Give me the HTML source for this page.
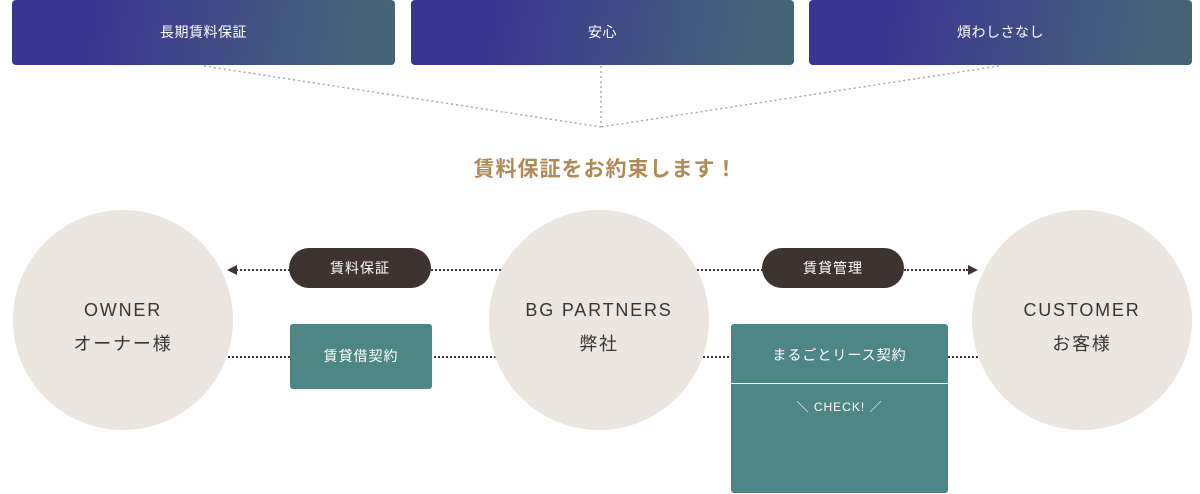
<!DOCTYPE html>
<html><head><meta charset="utf-8"><style>
body{margin:0;width:1200px;height:494px;background:#fff;position:relative;overflow:hidden;font-family:"Liberation Sans","Noto Sans CJK JP",sans-serif}
.t{position:absolute;top:0;height:65px;width:383px;border-radius:4px;background:linear-gradient(100deg,#3a3591 20%,#456478 90%);color:#fff;font-size:14px;line-height:65px;text-align:center;letter-spacing:0.5px}
.c{position:absolute;width:220px;height:220px;border-radius:50%;background:#ebe6df;top:210px;color:#3e3330;text-align:center;font-size:18px;letter-spacing:1.8px;line-height:34px;box-sizing:border-box;padding-top:83px}
.p{position:absolute;top:248px;height:40px;width:142px;border-radius:20px;background:#3e3330;color:#fff;font-size:14px;text-align:center;line-height:40px;letter-spacing:1px}
.g{position:absolute;background:#4e8585;color:#fff;font-size:14px;text-align:center;border-radius:3px;letter-spacing:1px}
.d{position:absolute;height:0;border-top:2px dotted #3e3330}
</style></head><body>
<div class="t" style="left:12px">長期賃料保証</div>
<div class="t" style="left:411px">安心</div>
<div class="t" style="left:809px">煩わしさなし</div>
<svg style="position:absolute;left:0;top:0" width="1200" height="140"><g stroke="#aaa" stroke-width="1.5" stroke-dasharray="2,3" fill="none"><line x1="204" y1="66" x2="601" y2="127"/><line x1="601" y1="66" x2="601" y2="127"/><line x1="999" y1="66" x2="601" y2="127"/></g></svg>
<div style="position:absolute;top:153px;left:0;width:1211px;text-align:center;color:#b08a55;font-size:21px;font-weight:bold;letter-spacing:1px">賃料保証をお約束します！</div>
<div class="d" style="left:236px;width:54px;top:269px"></div>
<div style="position:absolute;left:227px;top:265px;border-right:10px solid #3e3330;border-top:5px solid transparent;border-bottom:5px solid transparent"></div>
<div class="d" style="left:431px;width:70px;top:269px"></div>
<div class="d" style="left:697px;width:66px;top:269px"></div>
<div class="d" style="left:904px;width:64px;top:269px"></div>
<div style="position:absolute;left:968px;top:265px;border-left:10px solid #3e3330;border-top:5px solid transparent;border-bottom:5px solid transparent"></div>
<div class="d" style="left:228px;width:70px;top:356px"></div>
<div class="d" style="left:430px;width:70px;top:356px"></div>
<div class="d" style="left:700px;width:40px;top:356px"></div>
<div class="d" style="left:945px;width:40px;top:356px"></div>
<div class="c" style="left:13px">OWNER<br>オーナー様</div>
<div class="c" style="left:489px">BG PARTNERS<br>弊社</div>
<div class="c" style="left:972px">CUSTOMER<br>お客様</div>
<div class="p" style="left:289px">賃料保証</div>
<div class="p" style="left:762px">賃貸管理</div>
<div class="g" style="left:290px;top:324px;width:142px;height:65px;line-height:65px">賃貸借契約</div>
<div class="g" style="left:731px;top:324px;width:217px;height:169px">
<div style="height:59px;line-height:62px;border-bottom:1px solid #fff">まるごとリース契約</div>
<div style="font-size:12px;margin-top:14px">＼ CHECK! ／</div></div>
</body></html>
